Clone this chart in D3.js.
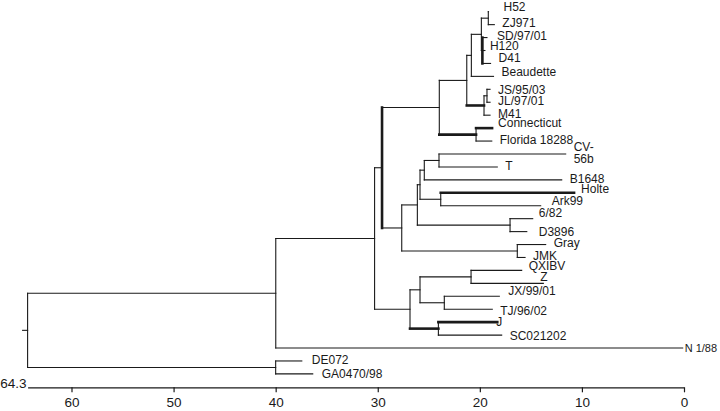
<!DOCTYPE html>
<html>
<head>
<meta charset="utf-8">
<script src="https://cdn.jsdelivr.net/npm/d3@7"></script>
<style>
  body { margin: 0; background: #fff; }
  svg { display: block; }
  .tick text { font-family: "Liberation Sans", Arial, sans-serif; }
</style>
</head>
<body>
<div id="chart"></div>
<script>
// leaves, top to bottom, and the axis value at which each leaf ends
const leafNames = ["H52", "ZJ971", "SD/97/01", "H120", "D41", "Beaudette", "JS/95/03", "JL/97/01", "M41",
  "Connecticut", "Florida 18288", "CV-56b", "T", "B1648", "Holte", "Ark99", "6/82", "D3896", "Gray", "JMK",
  "QXIBV", "Z", "JX/99/01", "TJ/96/02", "J", "SC021202", "N 1/88", "DE072", "GA0470/98"];
const leafDepth = [19.15, 18.58, 19.3, 19.5, 18.95, 18.66, 19.0, 19.0, 19.0,
  18.8, 18.83, 11.59, 18.29, 11.98, 10.77, 14.04, 14.82, 15.4, 13.55, 15.57,
  15.9, 13.78, 18.09, 18.78, 18.29, 17.86, 0.13, 37.44, 36.37];

// internal nodes: id, axis value, children
const nodeIds = ["root", "A", "B", "C", "D", "T0", "P3", "P2", "P1", "HZ", "SHD", "J2", "J1", "CF",
  "F", "G", "H", "I", "CT", "HA", "SD6", "GJ", "Q0", "R", "QZ", "JT", "JS2"];
const nodeDepth = [64.3, 39.99, 40.0, 30.31, 29.58, 23.97, 21.28, 20.83, 19.85, 19.17, 19.75, 19.59, 19.3, 20.37,
  27.65, 26.12, 25.86, 25.44, 24.0, 23.83, 17.04, 16.33, 26.84, 25.86, 20.86, 23.48, 24.06];
const nodeKids = [
  ["A", "B"], ["C", "N 1/88"], ["DE072", "GA0470/98"], ["D", "Q0"], ["T0", "F"], ["P3", "CF"],
  ["P2", "J2"], ["P1", "Beaudette"], ["HZ", "SHD"], ["H52", "ZJ971"], ["SD/97/01", "H120", "D41"],
  ["J1", "M41"], ["JS/95/03", "JL/97/01"], ["Connecticut", "Florida 18288"],
  ["G", "GJ"], ["H", "SD6"], ["I", "HA"], ["CT", "B1648"], ["CV-56b", "T"], ["Holte", "Ark99"],
  ["6/82", "D3896"], ["Gray", "JMK"], ["R", "JS2"], ["QZ", "JT"], ["QXIBV", "Z"],
  ["JX/99/01", "TJ/96/02"], ["J", "SC021202"]];

// heavier lines in the figure
const boldBranches = ["J2", "CF", "Connecticut", "Holte", "J", "JS2"];
const boldVerticals = ["D", "SHD"];

const axisTicks = [60, 50, 40, 30, 20, 10, 0];
const rootLabel = "64.3";

// small label shifts [dx, dy] in px, as set in the figure
const labelNudge = {
  "H52": [7, -3.5], "SD/97/01": [2, 0], "H120": [-3, -3], "D41": [0, -4.5], "Beaudette": [0, -3.5],
  "JS/95/03": [0, 2], "Connecticut": [-2, -3.5], "Holte": [-1, -3], "Ark99": [3, -3.5],
  "6/82": [-2, -4], "D3896": [4, 2], "QXIBV": [-1, -3], "Z": [-11, -5], "JX/99/01": [1, -4],
  "TJ/96/02": [0, 3], "J": [-9, 1], "SC021202": [0, 2], "N 1/88": [-6, 1.5], "DE072": [2, 0],
  "GA0470/98": [1, 1.5]
};

const width = 720, height = 411;
const thin = 1.1, bold = 2.6, ink = "#1a1a1a";
const font = "'Liberation Sans', Arial, Helvetica, sans-serif";

const svg = d3.select("#chart").append("svg")
  .attr("width", width)
  .attr("height", height);

const xScale = d3.scaleLinear().domain([64.3, 0]).range([27.6, 684]);
const yScale = d3.scalePoint().domain(leafNames).range([11.7, 373.9]);

// build the hierarchy from the arrays
function build(id) {
  const i = nodeIds.indexOf(id);
  if (i >= 0) return { name: id, h: nodeDepth[i], children: nodeKids[i].map(build) };
  return { name: id, h: leafDepth[leafNames.indexOf(id)] };
}
const root = d3.hierarchy(build("root"));

root.eachAfter(n => {
  n.px = xScale(n.data.h);
  if (n.children) {
    n.py = (n.children[0].py + n.children[n.children.length - 1].py) / 2;
  } else {
    n.py = yScale(n.data.name);
  }
});

const g = svg.append("g")
  .attr("fill", "none")
  .attr("stroke", ink)
  .attr("stroke-linecap", "square");

// horizontal branches
g.selectAll(".branch")
  .data(root.descendants().filter(n => n.parent))
  .enter().append("line")
  .attr("class", "branch")
  .attr("x1", n => n.parent.px)
  .attr("x2", n => n.px)
  .attr("y1", n => n.py)
  .attr("y2", n => n.py)
  .attr("stroke-width", n => boldBranches.includes(n.data.name) ? bold : thin);

// vertical connectors
g.selectAll(".vert")
  .data(root.descendants().filter(n => n.children))
  .enter().append("line")
  .attr("class", "vert")
  .attr("x1", n => n.px)
  .attr("x2", n => n.px)
  .attr("y1", n => n.children[0].py)
  .attr("y2", n => n.children[n.children.length - 1].py)
  .attr("stroke-width", n => boldVerticals.includes(n.data.name) ? bold : thin);

// root stub
g.append("line")
  .attr("x1", root.px - 5)
  .attr("x2", root.px)
  .attr("y1", root.py)
  .attr("y2", root.py)
  .attr("stroke-width", thin);

// leaf labels
const labels = svg.append("g")
  .attr("font-family", font)
  .attr("font-size", 12)
  .attr("fill", ink);

root.leaves().forEach(n => {
  const [dx, dy] = labelNudge[n.data.name] || [0, 0];
  const t = labels.append("text")
    .attr("x", n.px + 8 + dx)
    .attr("y", n.py - 1.5 + dy)
    .attr("dy", "0.35em");
  if (n.data.name === "CV-56b") {
    t.attr("dy", null);
    t.append("tspan").attr("x", n.px + 8).attr("dy", "-0.15em").text("CV-");
    t.append("tspan").attr("x", n.px + 8).attr("dy", "1em").text("56b");
  } else {
    t.text(n.data.name);
  }
  // last label sits at the right edge: a touch smaller so it stays inside
  if (n.data.name === "N 1/88") t.attr("font-size", 11);
});

// axis
const axisY = 387.3;
const axis = svg.append("g")
  .attr("transform", `translate(0,${axisY})`)
  .call(d3.axisBottom(xScale).tickValues(axisTicks).tickSize(5).tickSizeOuter(0).tickPadding(5));

axis.select(".domain").attr("stroke", ink).attr("stroke-width", 1.2);
axis.selectAll(".tick line").attr("stroke", ink).attr("stroke-width", 1.2);
axis.selectAll(".tick text")
  .attr("fill", ink)
  .style("font-size", "13.5px")
  .style("font-family", font);

svg.append("text")
  .attr("x", xScale(64.3) - 1)
  .attr("y", axisY - 4.5)
  .attr("dy", "0.35em")
  .attr("text-anchor", "end")
  .attr("font-family", font)
  .attr("font-size", 13.5)
  .attr("fill", ink)
  .text(rootLabel);
</script>
</body>
</html>
